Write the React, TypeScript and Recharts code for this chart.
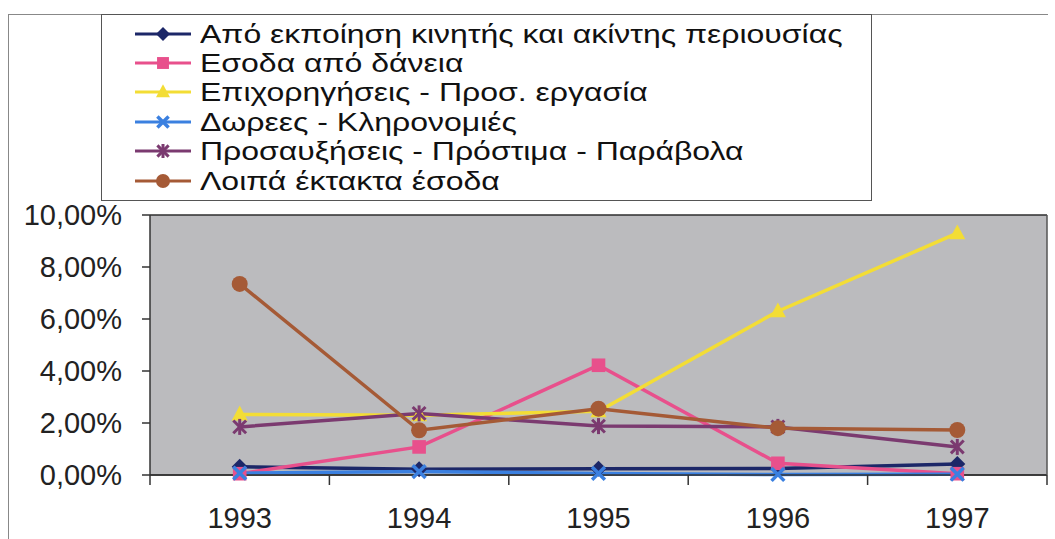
import { CartesianGrid, Line, LineChart, XAxis, YAxis } from "recharts";

// values in percent
const years = ["1993", "1994", "1995", "1996", "1997"];
const assetSales = [0.32, 0.22, 0.24, 0.25, 0.42];
const loans = [0.05, 1.08, 4.22, 0.45, 0.05];
const grants = [2.33, 2.3, 2.45, 6.3, 9.3];
const donations = [0.07, 0.13, 0.06, 0.02, 0.03];
const surcharges = [1.85, 2.37, 1.88, 1.85, 1.08];
const otherIncome = [7.35, 1.72, 2.55, 1.8, 1.73];
const yTicks = [0, 2, 4, 6, 8, 10];

const series = [
  { key: "assetSales", name: "Από εκποίηση κινητής και ακίντης περιουσίας", color: "#1c2768", kind: "diamond" },
  { key: "loans", name: "Εσοδα από δάνεια", color: "#e8508c", kind: "square" },
  { key: "grants", name: "Επιχορηγήσεις - Προσ. εργασία", color: "#f3dd35", kind: "triangle" },
  { key: "donations", name: "Δωρεες - Κληρονομιές", color: "#3b80e0", kind: "x" },
  { key: "surcharges", name: "Προσαυξήσεις - Πρόστιμα - Παράβολα", color: "#7b3a70", kind: "star" },
  { key: "otherIncome", name: "Λοιπά έκτακτα έσοδα", color: "#a55a36", kind: "circle" },
];

const data = years.map((year, i) => ({
  year,
  assetSales: assetSales[i],
  loans: loans[i],
  grants: grants[i],
  donations: donations[i],
  surcharges: surcharges[i],
  otherIncome: otherIncome[i],
}));

const font = "'Liberation Sans', Arial, sans-serif";

function Marker({ kind, cx, cy, color, s }: any) {
  if (cx == null || cy == null) return null;
  switch (kind) {
    case "diamond":
      return <polygon points={`${cx},${cy - s} ${cx + s},${cy} ${cx},${cy + s} ${cx - s},${cy}`} fill={color} />;
    case "square":
      return <rect x={cx - s * 0.85} y={cy - s * 0.85} width={s * 1.7} height={s * 1.7} fill={color} />;
    case "triangle":
      return <polygon points={`${cx},${cy - s * 1.1} ${cx + s},${cy + s * 0.75} ${cx - s},${cy + s * 0.75}`} fill={color} />;
    case "x":
      return (
        <g stroke={color} strokeWidth={3.5}>
          <line x1={cx - s * 0.8} y1={cy - s * 0.8} x2={cx + s * 0.8} y2={cy + s * 0.8} />
          <line x1={cx - s * 0.8} y1={cy + s * 0.8} x2={cx + s * 0.8} y2={cy - s * 0.8} />
        </g>
      );
    case "star":
      return (
        <g stroke={color} strokeWidth={3}>
          <line x1={cx - s * 0.8} y1={cy - s * 0.8} x2={cx + s * 0.8} y2={cy + s * 0.8} />
          <line x1={cx - s * 0.8} y1={cy + s * 0.8} x2={cx + s * 0.8} y2={cy - s * 0.8} />
          <line x1={cx} y1={cy - s} x2={cx} y2={cy + s} />
        </g>
      );
    default:
      return <circle cx={cx} cy={cy} r={s} fill={color} />;
  }
}

function LegendBox() {
  return (
    <div
      style={{
        position: "absolute",
        left: 101,
        top: 14,
        width: 771,
        height: 187,
        boxSizing: "border-box",
        border: "1.5px solid #555",
        background: "#fff",
        paddingTop: 4,
      }}
    >
      {series.map((s) => (
        <div key={s.key} style={{ display: "flex", alignItems: "center", height: 29.4 }}>
          <svg width={98} height={26} style={{ flex: "none" }}>
            <line x1={33} y1={13} x2={89} y2={13} stroke={s.color} strokeWidth={3} />
            <Marker kind={s.kind} cx={61} cy={13} color={s.color} s={7} />
          </svg>
          <span
            style={{
              display: "inline-block",
              fontFamily: font,
              fontSize: 26,
              color: "#111",
              lineHeight: "26px",
              whiteSpace: "nowrap",
              transform: "scaleX(1.23)",
              transformOrigin: "left center",
            }}
          >
            {s.name}
          </span>
        </div>
      ))}
    </div>
  );
}

function YearTick(props: any) {
  const { x, y, payload, index } = props;
  const half = payload && payload.offset ? payload.offset : 89.7;
  return (
    <g>
      <line x1={x - half} y1={y} x2={x - half} y2={y + 10} stroke="#333" strokeWidth={1.5} />
      {index === years.length - 1 && (
        <line x1={x + half} y1={y} x2={x + half} y2={y + 10} stroke="#333" strokeWidth={1.5} />
      )}
      <text x={x} y={y + 53} textAnchor="middle" fontFamily={font} fontSize={29} fill="#222">
        {payload.value}
      </text>
    </g>
  );
}

export default function App() {
  return (
    <div style={{ position: "absolute", left: 0, top: 0, width: 1055, height: 539, background: "#fff" }}>
      <div style={{ position: "absolute", left: 8, top: 14, width: 1040, height: 1, background: "#888" }} />
      <div style={{ position: "absolute", left: 8, top: 14, width: 1, height: 525, background: "#888" }} />
      <LineChart width={1055} height={539} data={data} margin={{ top: 215, right: 0, bottom: 0, left: 0 }}>
        <CartesianGrid vertical={false} stroke="#2e2e2e" strokeWidth={1.5} fill="#bbbbbe" fillOpacity={1} />
        <XAxis
          dataKey="year"
          scale="band"
          height={64}
          axisLine={{ stroke: "#333", strokeWidth: 1.5 }}
          tickLine={false}
          tickSize={0}
          tickMargin={0}
          tick={<YearTick />}
          interval={0}
        />
        <YAxis
          yAxisId="left"
          width={150}
          domain={[0, 10]}
          ticks={yTicks}
          tickFormatter={(v: number) => v.toFixed(2).replace(".", ",") + "%"}
          tick={{ fontFamily: font, fontSize: 29, fill: "#222" }}
          tickSize={8}
          tickMargin={20}
          axisLine={{ stroke: "#333", strokeWidth: 1.5 }}
          tickLine={{ stroke: "#333", strokeWidth: 1.5 }}
        />
        <YAxis
          yAxisId="right"
          orientation="right"
          width={8}
          domain={[0, 10]}
          tick={false}
          tickLine={false}
          axisLine={{ stroke: "#555", strokeWidth: 1.5 }}
        />
        {series.map((s) => (
          <Line
            key={s.key}
            yAxisId="left"
            type="linear"
            dataKey={s.key}
            name={s.name}
            stroke={s.color}
            strokeWidth={3.5}
            isAnimationActive={false}
            dot={(p: any) => (
              <Marker key={`${s.key}-${p.index}`} kind={s.kind} cx={p.cx} cy={p.cy} color={s.color} s={8} />
            )}
            activeDot={false}
          />
        ))}
      </LineChart>
      <LegendBox />
    </div>
  );
}
